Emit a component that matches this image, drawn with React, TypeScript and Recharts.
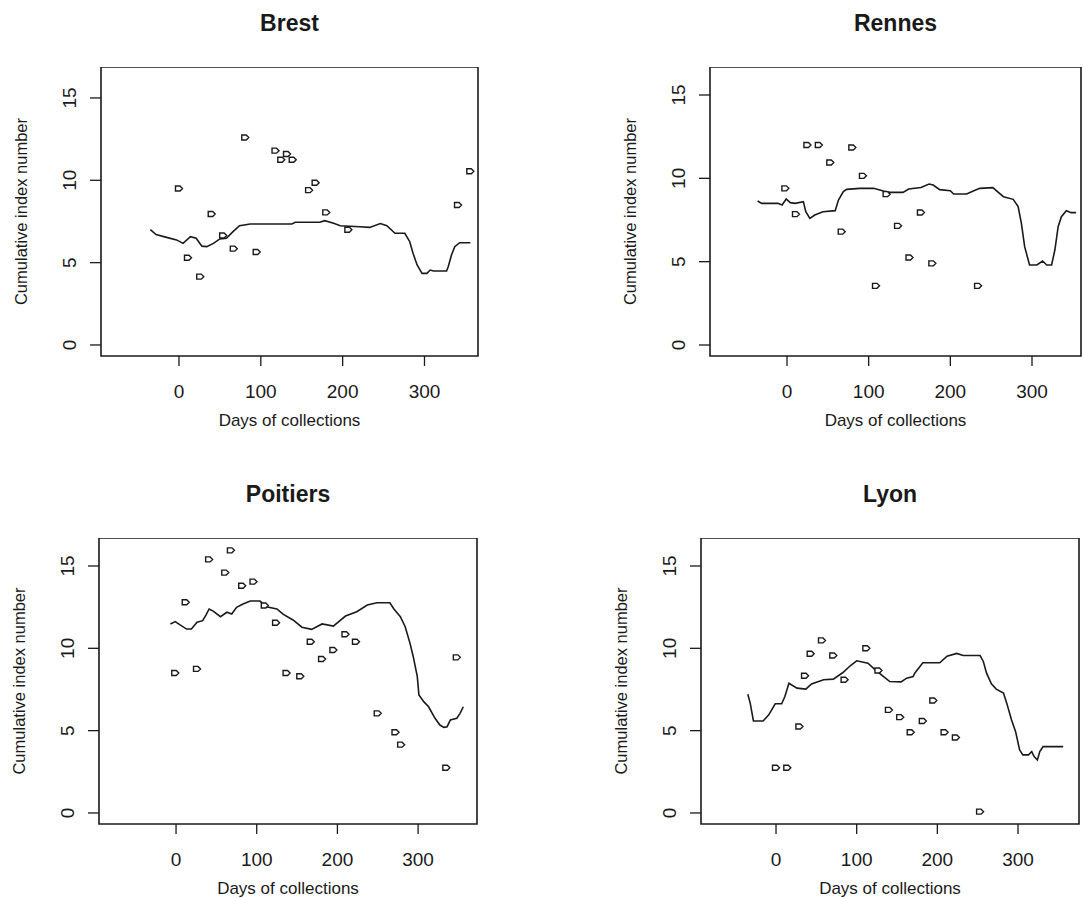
import React from 'react';
import { ScatterChart, Scatter, XAxis, YAxis, ReferenceArea } from 'recharts';

// observed values [day, cumulative index]
const brestPoints = [
  [0, 9.5], [11, 5.3], [26, 4.15], [40, 7.95], [54, 6.65], [67, 5.85], [81, 12.6], [95, 5.65],
  [118, 11.8], [125, 11.25], [132, 11.6], [139, 11.25], [159, 9.4], [167, 9.85], [180, 8.05],
  [207, 7.0], [341, 8.5], [356, 10.55],
];
const brestLine = [
  [-35, 7.0], [-28, 6.7], [-14, 6.52], [-3, 6.38], [5, 6.17], [14, 6.58], [21, 6.48], [28, 6.0],
  [34, 5.97], [42, 6.17], [50, 6.44], [58, 6.48], [66, 6.88], [74, 7.24], [87, 7.35], [107, 7.35],
  [138, 7.35], [142, 7.45], [172, 7.45], [178, 7.55], [189, 7.39], [197, 7.24], [221, 7.18],
  [233, 7.14], [246, 7.37], [254, 7.24], [264, 6.78], [276, 6.78], [282, 6.27], [286, 5.57],
  [291, 4.86], [297, 4.35], [303, 4.35], [307, 4.55], [311, 4.49], [327, 4.49], [329, 4.75],
  [333, 5.46], [337, 5.97], [343, 6.21], [356, 6.21],
];

const rennesPoints = [
  [-2, 9.4], [11, 7.85], [25, 12.0], [39, 12.0], [53, 10.95], [67, 6.8], [80, 11.85], [93, 10.15],
  [109, 3.55], [122, 9.05], [136, 7.15], [150, 5.25], [164, 7.95], [178, 4.9], [234, 3.55],
];
const rennesLine = [
  [-36, 8.64], [-31, 8.5], [-11, 8.5], [-6, 8.4], [-1, 8.76], [4, 8.54], [10, 8.5], [20, 8.6],
  [23, 8.0], [28, 7.6], [34, 7.8], [44, 8.0], [59, 8.06], [63, 8.7], [69, 9.2], [73, 9.34],
  [89, 9.4], [106, 9.4], [118, 9.24], [126, 9.16], [142, 9.16], [149, 9.36], [164, 9.45],
  [174, 9.66], [179, 9.6], [187, 9.32], [200, 9.26], [204, 9.06], [220, 9.06], [226, 9.2],
  [236, 9.4], [252, 9.44], [265, 8.9], [277, 8.74], [283, 8.3], [287, 7.3], [291, 5.9], [297, 4.8],
  [306, 4.8], [313, 5.04], [318, 4.8], [324, 4.8], [328, 5.7], [332, 7.1], [336, 7.7], [342, 8.06],
  [348, 7.94], [354, 7.94],
];

const poitiersPoints = [
  [-1, 8.5], [12, 12.8], [26, 8.75], [41, 15.4], [61, 14.6], [68, 15.95], [82, 13.8], [96, 14.05],
  [110, 12.6], [124, 11.55], [137, 8.5], [154, 8.3], [167, 10.4], [181, 9.35], [195, 9.9],
  [210, 10.85], [223, 10.4], [250, 6.05], [272, 4.9], [279, 4.15], [335, 2.75], [348, 9.45],
];
const poitiersLine = [
  [-7, 11.48], [-1, 11.62], [5, 11.42], [13, 11.17], [19, 11.17], [26, 11.58], [33, 11.68],
  [37, 12.02], [41, 12.39], [46, 12.26], [55, 11.92], [63, 12.19], [69, 12.08], [75, 12.49],
  [83, 12.69], [92, 12.87], [104, 12.87], [112, 12.53], [125, 12.39], [133, 12.06], [145, 11.72],
  [156, 11.28], [168, 11.15], [181, 11.48], [195, 11.35], [210, 11.96], [224, 12.22], [237, 12.63],
  [249, 12.77], [265, 12.77], [270, 12.39], [278, 11.92], [284, 11.31], [290, 10.3], [294, 9.49],
  [299, 8.28], [301, 7.17], [307, 6.76], [313, 6.45], [321, 5.75], [327, 5.34], [332, 5.2],
  [336, 5.24], [340, 5.65], [348, 5.75], [352, 6.05], [356, 6.45],
];

const lyonPoints = [
  [0, 2.75], [14, 2.75], [29, 5.25], [36, 8.33], [43, 9.67], [57, 10.48], [71, 9.56], [85, 8.09],
  [112, 10.0], [127, 8.65], [140, 6.26], [154, 5.82], [167, 4.9], [182, 5.59], [195, 6.83],
  [209, 4.9], [223, 4.58], [253, 0.08],
];
const lyonLine = [
  [-35, 7.21], [-32, 6.67], [-28, 5.59], [-16, 5.59], [-9, 5.96], [-1, 6.63], [7, 6.63], [11, 7.07],
  [16, 7.88], [26, 7.58], [37, 7.52], [44, 7.84], [59, 8.09], [71, 8.13], [83, 8.53], [92, 8.94],
  [100, 9.24], [114, 9.1], [123, 8.69], [133, 8.29], [141, 7.98], [155, 7.96], [162, 8.19],
  [170, 8.29], [172, 8.49], [182, 9.12], [203, 9.12], [212, 9.52], [224, 9.69], [232, 9.56],
  [253, 9.56], [257, 9.2], [261, 8.49], [267, 7.84], [273, 7.52], [282, 7.28], [286, 6.67],
  [292, 5.65], [297, 4.94], [302, 3.83], [306, 3.53], [313, 3.53], [317, 3.73], [320, 3.42],
  [324, 3.22], [327, 3.73], [331, 4.03], [356, 4.03],
];

const xTicks = [0, 100, 200, 300];
const yTicks = [0, 5, 10, 15];

const panels = [
  { title: 'Brest', points: brestPoints, line: brestLine, frame: { left: 101, top: 67, width: 377, height: 289 }, xDomain: [-95.3, 365.4], yDomain: [-0.67, 16.88] },
  { title: 'Rennes', points: rennesPoints, line: rennesLine, frame: { left: 710, top: 67, width: 371, height: 289 }, xDomain: [-94.3, 360], yDomain: [-0.66, 16.68] },
  { title: 'Poitiers', points: poitiersPoints, line: poitiersLine, frame: { left: 99, top: 538, width: 378, height: 286 }, xDomain: [-95.5, 373], yDomain: [-0.67, 16.7] },
  { title: 'Lyon', points: lyonPoints, line: lyonLine, frame: { left: 701, top: 538, width: 378, height: 286 }, xDomain: [-93, 375.6], yDomain: [-0.67, 16.7] },
];

const ink = '#1a1a1a';
const font = '"Liberation Sans", Arial, Helvetica, sans-serif';

const toXY = (pairs: number[][]) => pairs.map(([x, y]) => ({ x, y }));

function Marker(props: any) {
  const { cx, cy } = props;
  if (cx == null || cy == null) return <g />;
  return (
    <path
      d={`M${cx - 3.5},${cy - 2.5} L${cx + 1},${cy - 2.5} L${cx + 3.5},${cy} L${cx + 1},${cy + 2.5} L${cx - 3.5},${cy + 2.5} Z`}
      fill="#fff"
      stroke={ink}
      strokeWidth={1.4}
    />
  );
}

function YTick(props: any) {
  const { x, y, payload } = props;
  return (
    <text x={x} y={y} transform={`rotate(-90 ${x} ${y})`} textAnchor="middle" fontSize={19} fill={ink}>
      {payload.value}
    </text>
  );
}

function Panel({ title, points, line, frame, xDomain, yDomain }: any) {
  return (
    <>
      <div
        style={{
          position: 'absolute',
          left: frame.left,
          top: frame.top - 57,
          width: frame.width,
          height: 26,
          lineHeight: '26px',
          textAlign: 'center',
          fontWeight: 'bold',
          fontSize: 23,
          color: ink,
        }}
      >
        {title}
      </div>
      <div style={{ position: 'absolute', left: frame.left - 100, top: frame.top }}>
        <ScatterChart
          width={frame.width + 104}
          height={frame.height + 90}
          margin={{ top: 0, right: 4, bottom: 0, left: 0 }}
        >
          <XAxis
            type="number"
            dataKey="x"
            domain={xDomain}
            allowDataOverflow
            ticks={xTicks}
            axisLine={false}
            tickLine={{ stroke: ink, strokeWidth: 1.3 }}
            tickSize={10}
            tickMargin={19}
            height={90}
            tick={{ fontSize: 19, fill: ink }}
            label={{ value: 'Days of collections', position: 'insideTop', offset: 58, style: { fontSize: 17, fill: ink } }}
          />
          <YAxis
            type="number"
            dataKey="y"
            domain={yDomain}
            allowDataOverflow
            ticks={yTicks}
            axisLine={false}
            tickLine={{ stroke: ink, strokeWidth: 1.3 }}
            tickSize={11}
            tickMargin={14}
            width={100}
            tick={<YTick />}
            label={{
              value: 'Cumulative index number',
              angle: -90,
              position: 'insideLeft',
              offset: 20,
              style: { textAnchor: 'middle', fontSize: 16.5, fill: ink },
            }}
          />
          <ReferenceArea
            x1={xDomain[0]}
            x2={xDomain[1]}
            y1={yDomain[0]}
            y2={yDomain[1]}
            fill="none"
            fillOpacity={0}
            stroke={ink}
            strokeWidth={1.6}
            ifOverflow="visible"
          />
          <Scatter
            data={toXY(line)}
            line={{ stroke: ink, strokeWidth: 1.6 }}
            lineJointType="linear"
            shape={() => <g />}
            isAnimationActive={false}
          />
          <Scatter data={toXY(points)} shape={<Marker />} isAnimationActive={false} />
        </ScatterChart>
      </div>
    </>
  );
}

export default function App() {
  return (
    <div
      style={{
        position: 'absolute',
        left: 0,
        top: 0,
        width: 1083,
        height: 898,
        background: '#fff',
        fontFamily: font,
        overflow: 'hidden',
      }}
    >
      {panels.map((p) => (
        <Panel key={p.title} {...p} />
      ))}
    </div>
  );
}
